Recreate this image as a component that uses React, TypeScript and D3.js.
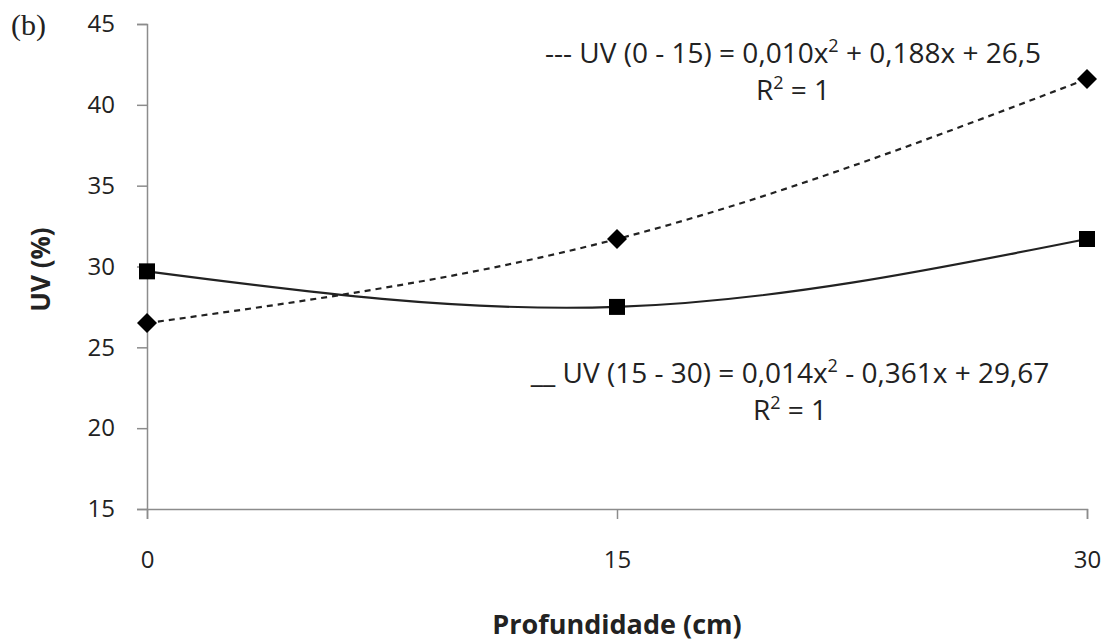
import React, { useEffect, useRef } from 'react';
import * as d3 from 'd3';

// depth categories (cm)
const depths = [0, 15, 30];
// UV (%) at each depth
const uv0to15 = [26.5, 31.7, 41.6];
const uv15to30 = [29.7, 27.5, 31.7];
const yTicks = [15, 20, 25, 30, 35, 40, 45];

const eq1 = '--- UV (0 - 15) = 0,010x';
const eq1b = ' + 0,188x + 26,5';
const eq2 = '__ UV (15 - 30) = 0,014x';
const eq2b = ' - 0,361x + 29,67';

function App() {
    const ref = useRef<SVGSVGElement>(null);

    const width = 1111;
    const height = 641;
    const marginTop = 24;
    const marginLeft = 147;
    const marginRight = 24;
    const marginBottom = 132;

    useEffect(() => {
        const svg = d3.select(ref.current);
        svg.selectAll('*').remove();

        const font = "'Open Sans', sans-serif";
        const axisColor = '#8c8c8c';

        const x = d3.scaleLinear()
            .domain([0, 30])
            .range([marginLeft, width - marginRight]);

        const y = d3.scaleLinear()
            .domain([15, 45])
            .range([height - marginBottom, marginTop]);

        // y axis
        svg.append('g')
            .attr('transform', `translate(${marginLeft},0)`)
            .call(d3.axisLeft(y).tickValues(yTicks).tickSize(10).tickSizeOuter(10).tickPadding(22))
            .call(g => g.select('.domain').attr('stroke', axisColor).attr('stroke-width', 1.5))
            .call(g => g.selectAll('.tick line').attr('stroke', axisColor).attr('stroke-width', 1.5))
            .call(g => g.selectAll('.tick text')
                .attr('font-family', font)
                .attr('font-size', 24)
                .attr('fill', '#222'));

        // x axis
        svg.append('g')
            .attr('transform', `translate(0,${height - marginBottom})`)
            .call(d3.axisBottom(x).tickValues(depths).tickSize(10).tickSizeOuter(10).tickPadding(32))
            .call(g => g.select('.domain').attr('stroke', axisColor).attr('stroke-width', 1.5))
            .call(g => g.selectAll('.tick line').attr('stroke', axisColor).attr('stroke-width', 1.5))
            .call(g => g.selectAll('.tick text')
                .attr('font-family', font)
                .attr('font-size', 24)
                .attr('fill', '#222'));

        const dataA = depths.map((d, i) => ({ x: d, y: uv0to15[i] }));
        const dataB = depths.map((d, i) => ({ x: d, y: uv15to30[i] }));

        const line = d3.line<{ x: number, y: number }>()
            .x(d => x(d.x))
            .y(d => y(d.y))
            .curve(d3.curveNatural);

        svg.append('path')
            .attr('fill', 'none')
            .attr('stroke', '#222')
            .attr('stroke-width', 2.2)
            .attr('stroke-dasharray', '6,5')
            .attr('d', line(dataA));

        svg.append('path')
            .attr('fill', 'none')
            .attr('stroke', '#222')
            .attr('stroke-width', 2.2)
            .attr('d', line(dataB));

        // markers
        svg.append('g')
            .selectAll('path')
            .data(dataA)
            .join('path')
            .attr('transform', d => `translate(${x(d.x)},${y(d.y)}) rotate(45)`)
            .attr('d', d3.symbol(d3.symbolSquare, 200)())
            .attr('fill', '#000');

        svg.append('g')
            .selectAll('path')
            .data(dataB)
            .join('path')
            .attr('transform', d => `translate(${x(d.x)},${y(d.y)})`)
            .attr('d', d3.symbol(d3.symbolSquare, 256)())
            .attr('fill', '#000');

        // equations
        const eq = (label: string, rest: string, cx: number, cy: number) => {
            const t = svg.append('text')
                .attr('x', cx)
                .attr('y', cy)
                .attr('text-anchor', 'middle')
                .attr('font-family', font)
                .attr('font-size', 28)
                .attr('fill', '#222');
            t.append('tspan').text(label);
            t.append('tspan').attr('dy', -11).attr('font-size', 18).text('2');
            t.append('tspan').attr('dy', 11).text(rest);

            const r = svg.append('text')
                .attr('x', cx)
                .attr('y', cy + 37)
                .attr('text-anchor', 'middle')
                .attr('font-family', font)
                .attr('font-size', 28)
                .attr('fill', '#222');
            r.append('tspan').text('R');
            r.append('tspan').attr('dy', -11).attr('font-size', 18).text('2');
            r.append('tspan').attr('dy', 11).text(' = 1');
        };
        eq(eq1, eq1b, 793, 63);
        eq(eq2, eq2b, 790, 383);

        // axis titles
        svg.append('text')
            .attr('transform', `translate(50,${(marginTop + height - marginBottom) / 2 + 3}) rotate(-90)`)
            .attr('text-anchor', 'middle')
            .attr('font-family', font)
            .attr('font-weight', 'bold')
            .attr('font-size', 26)
            .attr('fill', '#222')
            .text('UV (%)');

        svg.append('text')
            .attr('x', x(15))
            .attr('y', 634)
            .attr('text-anchor', 'middle')
            .attr('font-family', font)
            .attr('font-weight', 'bold')
            .attr('font-size', 27)
            .attr('fill', '#222')
            .text('Profundidade (cm)');

        svg.append('text')
            .attr('x', 11)
            .attr('y', 35)
            .attr('font-family', "'Liberation Serif', serif")
            .attr('font-size', 30)
            .attr('fill', '#222')
            .text('(b)');
    }, []);

    return (
        <svg ref={ref} width={width} height={height}
            style={{ position: 'absolute', left: 0, top: 0, background: '#fff' }}>
        </svg>
    );
}

export default App;
